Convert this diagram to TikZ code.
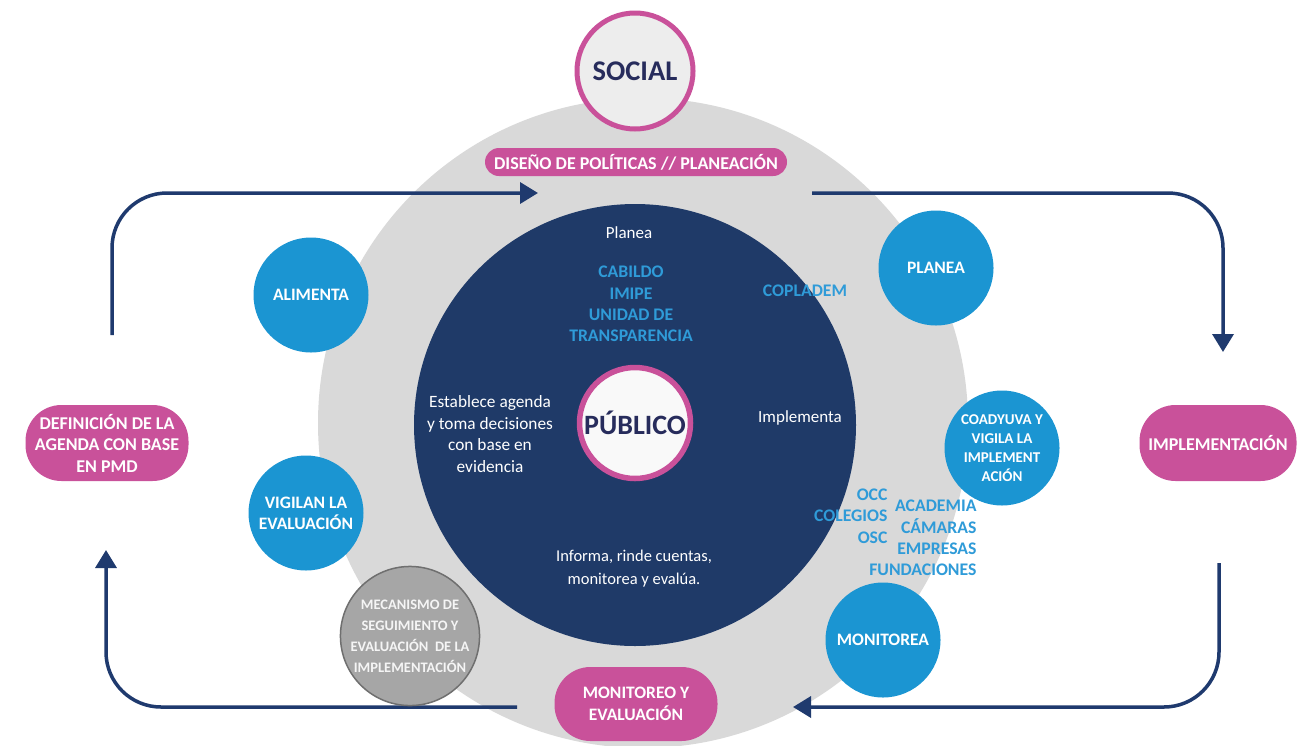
\documentclass[tikz,border=0pt]{standalone}
\usepackage{fontspec}
\setmainfont{Carlito}
\usetikzlibrary{arrows.meta}
\definecolor{navy}{HTML}{1F3A68}
\definecolor{ltgray}{HTML}{D9D9D9}
\definecolor{skyblue}{HTML}{1B95D2}
\definecolor{txtblue}{HTML}{2F9BD8}
\definecolor{pinkc}{HTML}{C9519A}
\definecolor{arrowc}{HTML}{1F3A6E}
\definecolor{darktxt}{HTML}{272C5C}
\definecolor{mecgray}{HTML}{A6A6A6}
\definecolor{mecborder}{HTML}{6F6F6F}
\definecolor{palegray}{HTML}{EDEDED}
\begin{document}
\begin{tikzpicture}[x=1pt,y=-1pt,
  bluecirc/.style={circle, fill=skyblue, minimum size=115pt, inner sep=0pt, text=white, align=center, font=\bfseries\fontsize{17.5}{21}\selectfont},
  pinkbox/.style={rounded corners=36pt, fill=pinkc, text=white, align=center, minimum height=76pt, inner sep=0pt, font=\bfseries\fontsize{18}{21.5}\selectfont},
  banner/.style={rounded corners=14pt, fill=pinkc, text=white, minimum height=28pt, inner sep=0pt, font=\bfseries\fontsize{18}{20}\selectfont},
  bigcirc/.style={circle, fill=palegray, draw=pinkc, line width=5pt, inner sep=0pt, minimum size=116pt, text=darktxt, font=\bfseries\fontsize{28.5}{32}\selectfont},
  whitetxt/.style={text=white, align=center, font=\fontsize{17}{21.5}\selectfont},
  bluetxt/.style={text=txtblue, font=\bfseries\fontsize{17.7}{21.3}\selectfont},
  flow/.style={draw=arrowc, line width=3.5pt, rounded corners=55pt, -{Triangle[length=18pt,width=21pt]}}]
\useasboundingbox (0,0) rectangle (1303,745);
\fill[white] (0,0) rectangle (1303,745);
\begin{scope}
\clip (0,0) rectangle (1303,745);
\fill[ltgray] (643,423) circle[radius=325];
\end{scope}
\fill[navy] (635,425) circle[radius=221];
% banner and social
\node[banner, minimum width=302pt] (dis) at (636,162) {DISEÑO DE POLÍTICAS // PLANEACIÓN};
\node[bigcirc] (soc) at (635,71) {SOCIAL};
\node[bigcirc, fill=white!95!gray, minimum size=111pt, line width=5.5pt, font=\bfseries\fontsize{28}{32}\selectfont] (pub) at (635,423) {PÚBLICO};
% blue circles
\node[bluecirc] (ali) at (311,295) {ALIMENTA};
\node[bluecirc] (vig) at (306,513) {VIGILAN LA\\EVALUACIÓN};
\node[bluecirc] (pla) at (936,268) {PLANEA};
\node[bluecirc, font=\bfseries\fontsize{15}{19}\selectfont] (coa) at (1002,448) {COADYUVA Y\\VIGILA LA\\IMPLEMENT\\ACIÓN};
\node[bluecirc] (mon) at (883,640) {MONITOREA};
% pink boxes
\node[pinkbox, minimum width=163pt] (def) at (107,443) {DEFINICIÓN DE LA\\AGENDA CON BASE\\EN PMD};
\node[pinkbox, minimum width=157pt] (imp) at (1218,443) {IMPLEMENTACIÓN};
\node[pinkbox, minimum width=163pt, minimum height=74pt, font=\bfseries\fontsize{17.5}{22}\selectfont] (moe) at (636,704) {MONITOREO Y\\EVALUACIÓN};
% texts
\node[whitetxt] (tpla) at (629,233) {Planea};
\node[bluetxt, align=center] (tcab) at (631,304) {CABILDO\\IMIPE\\UNIDAD DE\\TRANSPARENCIA};
\node[bluetxt] (tcop) at (805,291) {COPLADEM};
\node[whitetxt, font=\fontsize{17.3}{21.5}\selectfont] (test) at (490,434) {Establece agenda\\y toma decisiones\\con base en\\evidencia};
\node[whitetxt] (timp) at (800,418) {Implementa};
\node[whitetxt, font=\fontsize{16.5}{23}\selectfont] (tinf) at (634,569) {Informa, rinde cuentas,\\monitorea y evalúa.};
\node[bluetxt, align=right, anchor=east] (tocc) at (891,516) {OCC\\COLEGIOS\\OSC};
\node[bluetxt, align=right, anchor=east] (taca) at (980,538) {ACADEMIA\\CÁMARAS\\EMPRESAS\\FUNDACIONES};
% arrows
\coordinate (a1s) at (112,335);
\coordinate (a1e) at (538,193);
\coordinate (a2s) at (812,193);
\coordinate (a2e) at (1223,352);
\coordinate (a3s) at (1219,563);
\coordinate (a3e) at (793,707);
\coordinate (a4s) at (517,707);
\coordinate (a4e) at (106,550);
\draw[flow] (a1s) |- (a1e);
\draw[flow] (a2s) -| (a2e);
\draw[flow] (a3s) |- (a3e);
\draw[flow] (a4s) -| (a4e);
% mecanismo
\node[circle, fill=mecgray, draw=mecborder, line width=1.5pt, minimum size=128pt, inner sep=0pt, text=white!92!gray, align=center, font=\bfseries\fontsize{14.5}{21}\selectfont] (mec) at (410,636) {MECANISMO DE\\SEGUIMIENTO Y\\EVALUACIÓN~~DE LA\\IMPLEMENTACIÓN};
\end{tikzpicture}
\end{document}
